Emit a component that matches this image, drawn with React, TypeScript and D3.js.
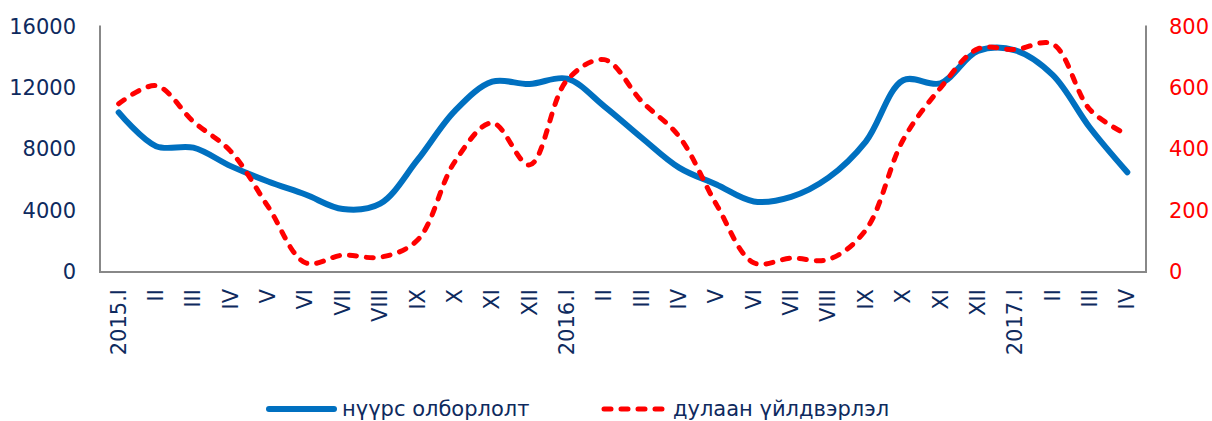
import * as d3 from "d3";

const categories = [
  "2015.I", "II", "III", "IV", "V", "VI", "VII", "VIII", "IX", "X", "XI", "XII",
  "2016.I", "II", "III", "IV", "V", "VI", "VII", "VIII", "IX", "X", "XI", "XII",
  "2017.I", "II", "III", "IV",
];

// нүүрс олборлолт (left axis)
const coal = [
  10400, 8200, 8100, 6900, 5900, 5050, 4100, 4450, 7300, 10500, 12400, 12250,
  12600, 10800, 8750, 6800, 5700, 4600, 4900, 6150, 8500, 12500, 12300, 14400,
  14450, 12850, 9400, 6500,
];

// дулаан үйлдвэрлэл (right axis)
const heat = [
  548, 607, 490, 393, 213, 30, 55, 48, 104, 360, 486, 349,
  625, 692, 556, 442, 220, 30, 45, 41, 137, 431, 600, 727,
  725, 743, 529, 447,
];

const leftTicks = [0, 4000, 8000, 12000, 16000];
const rightTicks = [0, 200, 400, 600, 800];

const W = 1212;
const H = 421;
const m = { top: 26.5, right: 66, bottom: 149, left: 100 };

const navy = "#0E2A5E";
const red = "#FF0000";
const blue = "#0070C0";
const grey = "#888888";
const font = "'DejaVu Sans', Verdana, sans-serif";

export default function App() {
  const x = d3
    .scaleBand<number>()
    .domain(d3.range(categories.length))
    .range([m.left, W - m.right])
    .padding(0);
  const cx = (i: number) => (x(i) as number) + x.bandwidth() / 2;

  const yL = d3.scaleLinear().domain([0, 16000]).range([H - m.bottom, m.top]);
  const yR = d3.scaleLinear().domain([0, 800]).range([H - m.bottom, m.top]);

  const coalLine = d3
    .line<number>()
    .x((_, i) => cx(i))
    .y((d) => yL(d))
    .curve(d3.curveCatmullRom.alpha(0.5));
  const heatLine = d3
    .line<number>()
    .x((_, i) => cx(i))
    .y((d) => yR(d))
    .curve(d3.curveCatmullRom.alpha(0.5));

  const y0 = H - m.bottom;
  const xR = W - m.right;

  return (
    <svg
      width={W}
      height={H}
      style={{ position: "absolute", left: 0, top: 0, background: "#fff" }}
      fontFamily={font}
    >
      {/* axis frame */}
      <line x1={m.left} x2={m.left} y1={m.top - 1} y2={y0 + 1} stroke={grey} strokeWidth={2} />
      <line x1={xR} x2={xR} y1={m.top - 1} y2={y0 + 1} stroke={grey} strokeWidth={2} />
      <line x1={m.left - 1} x2={xR + 1} y1={y0} y2={y0} stroke={grey} strokeWidth={2} />

      {/* left ticks */}
      {leftTicks.map((t) => (
        <text key={"l" + t} x={76} y={yL(t)} textAnchor="end" dominantBaseline="central"
          fontSize={21} fill={navy}>
          {t}
        </text>
      ))}
      {/* right ticks */}
      {rightTicks.map((t) => (
        <text key={"r" + t} x={1169} y={yR(t)} textAnchor="start" dominantBaseline="central"
          fontSize={21} fill={red}>
          {t}
        </text>
      ))}
      {/* category labels */}
      {categories.map((c, i) => (
        <text key={"c" + i} transform={`translate(${cx(i)},${y0 + 17}) rotate(-90)`}
          textAnchor="end" dominantBaseline="central" fontSize={21} fill={navy}>
          {c}
        </text>
      ))}

      <path d={coalLine(coal) ?? ""} fill="none" stroke={blue} strokeWidth={6}
        strokeLinecap="round" strokeLinejoin="round" />
      <path d={heatLine(heat) ?? ""} fill="none" stroke={red} strokeWidth={5}
        strokeDasharray="7 10" strokeLinecap="round" />

      {/* legend */}
      <line x1={269} x2={334} y1={409} y2={409} stroke={blue} strokeWidth={6} strokeLinecap="round" />
      <text x={342} y={409} dominantBaseline="central" fontSize={21} fill={navy}>
        нүүрс олборлолт
      </text>
      <line x1={604} x2={666} y1={409} y2={409} stroke={red} strokeWidth={5}
        strokeDasharray="7 10" strokeLinecap="round" />
      <text x={673} y={409} dominantBaseline="central" fontSize={21} fill={navy}>
        дулаан үйлдвэрлэл
      </text>
    </svg>
  );
}
